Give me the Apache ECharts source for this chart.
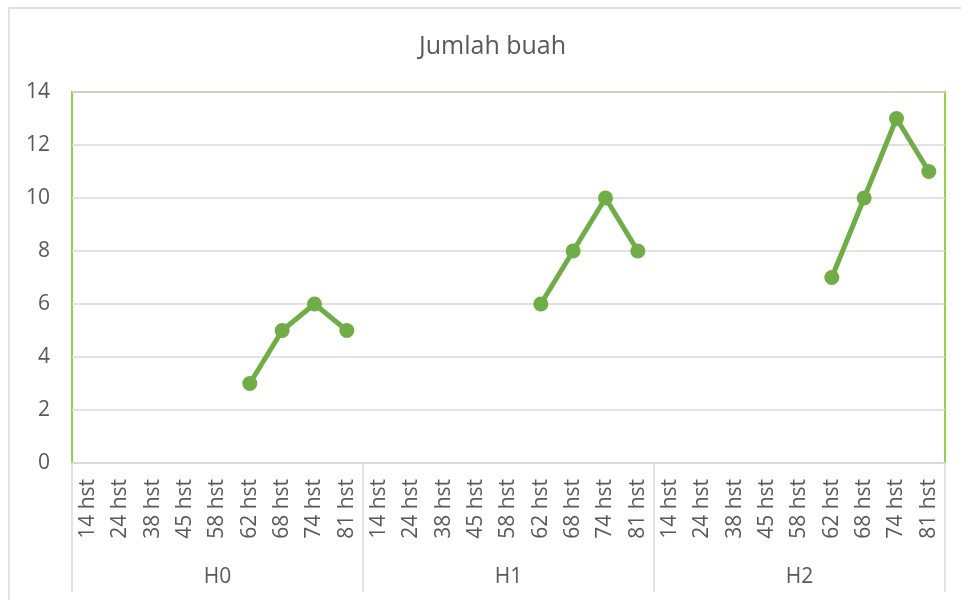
<!DOCTYPE html>
<html>
<head>
<meta charset="utf-8">
<script src="https://cdn.jsdelivr.net/npm/echarts@6/dist/echarts.min.js"></script>
<style>
  html, body { margin: 0; padding: 0; background: #fff; }
  #main { width: 961px; height: 600px; }
</style>
</head>
<body>
<div id="main"></div>
<script>
// kategori umur tanaman (hari setelah tanam) per perlakuan
var hari = ['14 hst', '24 hst', '38 hst', '45 hst', '58 hst', '62 hst', '68 hst', '74 hst', '81 hst'];
var perlakuan = ['H0', 'H1', 'H2'];

// jumlah buah per perlakuan (kosong = belum berbuah)
var buahH0 = [null, null, null, null, null, 3, 5, 6, 5];
var buahH1 = [null, null, null, null, null, 6, 8, 10, 8];
var buahH2 = [null, null, null, null, null, 7, 10, 13, 11];

var yTicks = [0, 2, 4, 6, 8, 10, 12, 14];

var kategori = [];
for (var i = 0; i < perlakuan.length; i++) {
    for (var j = 0; j < hari.length; j++) {
        kategori.push(hari[j]);
    }
}
var nilai = buahH0.concat(buahH1, buahH2);

var myChart = echarts.init(document.getElementById('main'));
var font = '"Open Sans", "Noto Sans", sans-serif';
var option = {
    backgroundColor: '#fff',
    textStyle: { fontFamily: font },
    title: {
        text: 'Jumlah buah',
        left: 414,
        top: 29,
        textStyle: { fontFamily: font, fontSize: 25, fontWeight: 'normal', color: '#595959' }
    },
    graphic: [{
        type: 'rect',
        shape: { x: 9, y: 8, width: 1000, height: 700 },
        style: { fill: 'none', stroke: '#d9d9d9', lineWidth: 1.5 },
        silent: true
    }],
    grid: {
        left: 72, right: 16, top: 92, bottom: 137,
        show: true,
        borderColor: '#92d050',
        borderWidth: 2
    },
    xAxis: [{
        type: 'category',
        data: kategori,
        boundaryGap: true,
        axisLine: { show: true, lineStyle: { color: '#d9d9d9', width: 2 } },
        axisTick: { show: false },
        axisLabel: {
            interval: 0,
            rotate: 90,
            margin: 16,
            fontFamily: font,
            fontSize: 21,
            color: '#595959'
        }
    }, {
        type: 'category',
        data: perlakuan,
        position: 'bottom',
        boundaryGap: true,
        axisLine: { show: false },
        axisTick: { show: true, length: 129, lineStyle: { color: '#d9d9d9', width: 1.5 } },
        axisLabel: {
            interval: 0,
            margin: 104,
            fontFamily: font,
            fontSize: 21,
            color: '#595959'
        }
    }],
    yAxis: {
        type: 'value',
        min: yTicks[0],
        max: yTicks[yTicks.length - 1],
        interval: 2,
        axisLine: { show: false },
        axisTick: { show: false },
        axisLabel: { margin: 22, fontFamily: font, fontSize: 21, color: '#595959' },
        splitLine: { lineStyle: { color: '#d9d9d9', width: 1.5 } }
    },
    series: [{
        name: 'Jumlah buah',
        type: 'line',
        xAxisIndex: 0,
        data: nilai,
        connectNulls: false,
        symbol: 'circle',
        symbolSize: 15,
        lineStyle: { color: '#70ad47', width: 5 },
        itemStyle: { color: '#70ad47' },
        animation: false
    }]
};
myChart.setOption(option);
</script>
</body>
</html>
